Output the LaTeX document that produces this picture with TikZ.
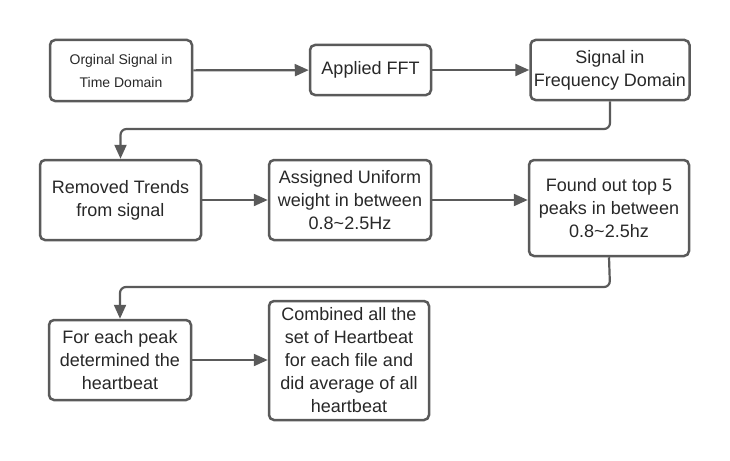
\documentclass[tikz,border=0pt]{standalone}
\usepackage{fontspec}
\setmainfont{Liberation Sans}
\usetikzlibrary{arrows.meta,positioning}
\definecolor{linegray}{RGB}{90, 90, 90}
\definecolor{textgray}{RGB}{40, 40, 40}

\begin{document}
\begin{tikzpicture}[x=1pt, y=-1pt,
    box/.style={rectangle, draw=linegray, line width=2.5pt, rounded corners=5pt, fill=white,
                align=center, inner sep=0pt, text=textgray,
                font=\fontsize{18}{23}\selectfont},
    flow/.style={draw=linegray, line width=2.2pt, -{Triangle[length=14pt, width=12pt]}}]
            \useasboundingbox (0,0) rectangle (730,460);
            % Stages
            \node[box, minimum width=142pt, minimum height=61pt, font=\fontsize{14}{23}\selectfont] (orig) at (121,70.5) {Orginal Signal in\\Time Domain};
            \node[box, minimum width=121pt, minimum height=50pt] (fft) at (370.5,70) {Applied FFT};
            \node[box, minimum width=159pt, minimum height=60pt] (freq) at (610,70) {Signal in\\Frequency Domain};
            \node[box, minimum width=161pt, minimum height=80pt] (trend) at (120.5,200) {Removed Trends\\from signal};
            \node[box, minimum width=162pt, minimum height=80pt] (weight) at (350,200) {Assigned Uniform\\weight in between\\0.8\textasciitilde2.5Hz};
            \node[box, minimum width=160pt, minimum height=96pt] (peaks) at (609,208) {Found out top 5\\peaks in between\\0.8\textasciitilde2.5hz};
            \node[box, minimum width=142pt, minimum height=80pt] (beat) at (120,360) {For each peak\\determined the\\heartbeat};
            \node[box, minimum width=160pt, minimum height=119pt] (avg) at (349,360.5) {Combined all the\\set of Heartbeat\\for each file and\\did average of all\\heartbeat};

            % Arrows
            \draw[flow] (orig) -- (fft);
            \draw[flow] (fft) -- (freq);
            \draw[flow] (trend.east) -- (trend.east -| weight.west);
            \draw[flow] (weight.east) -- (weight.east -| peaks.west);
            \draw[flow] (beat.east) -- (beat.east -| avg.west);

            % Row changes
            \coordinate (turnA) at (610,129);
            \coordinate (turnB) at (610,287);
            \draw[flow, rounded corners=6pt] (freq.south) -- (turnA) -| (trend.north);
            \draw[flow, rounded corners=6pt] (peaks.south) -- (turnB) -| (beat.north);
        \end{tikzpicture}
\end{document}
